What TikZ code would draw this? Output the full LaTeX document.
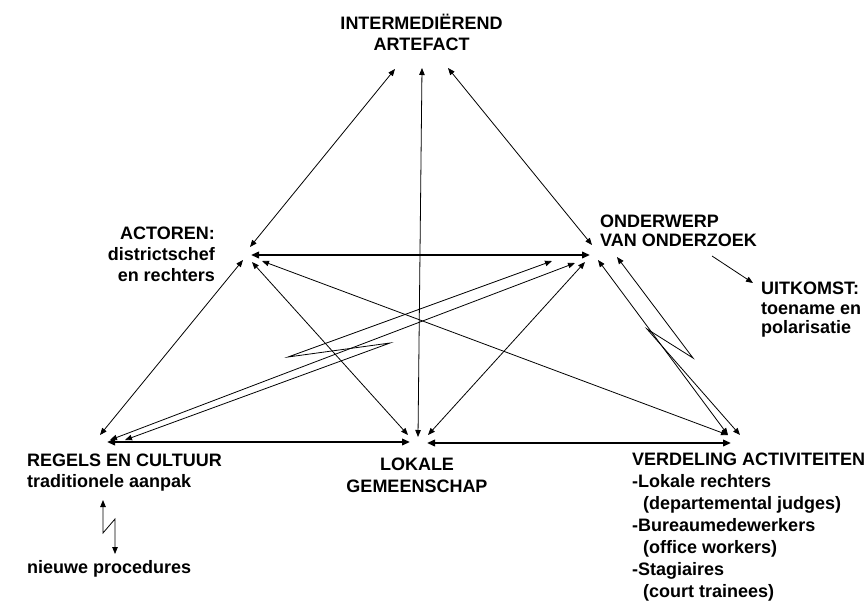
\documentclass[tikz,border=0pt]{standalone}
\usepackage{fontspec}
\setmainfont{Liberation Sans}
\usetikzlibrary{arrows.meta}
\tikzstyle{lbl}=[inner sep=0pt,font=\fontsize{18}{21}\selectfont\bfseries]
\tikzstyle{link}=[{Triangle[length=7pt,width=5.5pt]}-{Triangle[length=7pt,width=5.5pt]},
  line width=0.8pt]
\tikzstyle{biglink}=[{Triangle[length=8pt,width=6.5pt]}-{Triangle[length=8pt,width=6.5pt]},
  line width=2.2pt]
\tikzstyle{onelink}=[-{Triangle[length=7pt,width=5.5pt]},line width=0.8pt]

\begin{document}
\begin{tikzpicture}[x=1pt,y=-1pt]
    \useasboundingbox (0,0) rectangle (865,603);
    % labels
    \node [style=lbl,align=center,anchor=north,font=\fontsize{18}{21.5}\selectfont\bfseries] (art) at (421.5,13.5) {INTERMEDIËREND\\ARTEFACT};
    \node [style=lbl,align=right,anchor=north east] (act) at (215,227) {ACTOREN:\\districtschef\\en rechters};
    \node [style=lbl,align=left,anchor=north west,font=\fontsize{18}{19}\selectfont\bfseries] (ond) at (600,215) {ONDERWERP\\VAN ONDERZOEK};
    \node [style=lbl,align=left,anchor=north west,font=\fontsize{18}{19.5}\selectfont\bfseries] (uit) at (761,282) {UITKOMST:\\toename en\\polarisatie};
    \node [style=lbl,align=left,anchor=north west,font=\fontsize{18}{20.5}\selectfont\bfseries] (reg) at (27,454) {REGELS EN CULTUUR\\traditionele aanpak};
    \node [style=lbl,anchor=base west] (nieuw) at (27,573) {nieuwe procedures};
    \node [style=lbl,align=center,anchor=north,font=\fontsize{18}{21.5}\selectfont\bfseries] (lok) at (417,458) {LOKALE\\GEMEENSCHAP};
    \node [style=lbl,align=left,anchor=north west,font=\fontsize{18}{22}\selectfont\bfseries] (ver) at (632,453) {VERDELING ACTIVITEITEN\\-Lokale rechters\\\hspace*{11pt}(departemental judges)\\-Bureaumedewerkers\\\hspace*{11pt}(office workers)\\-Stagiaires\\\hspace*{11pt}(court trainees)};
    % end points
    \coordinate (art1) at (395,69);
    \coordinate (art2) at (422,68);
    \coordinate (art3) at (448,68);
    \coordinate (act1) at (250,247);
    \coordinate (act2) at (251,255);
    \coordinate (act3) at (243,260);
    \coordinate (act4) at (252,262);
    \coordinate (act5) at (262,261);
    \coordinate (ond1) at (592,245);
    \coordinate (ond2) at (590,255);
    \coordinate (ond3) at (552,261);
    \coordinate (ond4) at (575,263);
    \coordinate (ond5) at (585,262);
    \coordinate (ond6) at (598,260);
    \coordinate (ond7) at (617,257);
    \coordinate (ond8) at (712,256);
    \coordinate (uit1) at (753,283);
    \coordinate (reg1) at (100,435);
    \coordinate (reg2) at (110,440);
    \coordinate (reg3) at (125,440);
    \coordinate (reg4) at (107,442);
    \coordinate (reg5) at (103,500);
    \coordinate (lok1) at (418,437);
    \coordinate (lok2) at (408,435);
    \coordinate (lok3) at (428,435);
    \coordinate (lok4) at (410,442);
    \coordinate (lok5) at (427,443);
    \coordinate (ver1) at (731,443);
    \coordinate (ver2) at (728,435);
    \coordinate (ver3) at (740,435);
    \coordinate (nieuw1) at (115,554);
    % bends of the lightning arrows
    \coordinate (zigA) at (288,357);
    \coordinate (zigB) at (390,343);
    \coordinate (zigC) at (693,358);
    \coordinate (zigD) at (647,329);
    \coordinate (zigE) at (103,533);
    \coordinate (zigF) at (115,519);
    % connectors
    \draw [style=link] (art1) to (act1);
    \draw [style=link] (art2) to (lok1);
    \draw [style=link] (art3) to (ond1);
    \draw [style=biglink] (act2) to (ond2);
    \draw [style=biglink] (reg4) to (lok4);
    \draw [style=biglink] (lok5) to (ver1);
    \draw [style=link] (act3) to (reg1);
    \draw [style=link] (act4) to (lok2);
    \draw [style=link] (act5) to (ver2);
    \draw [style=link] (ond5) to (lok3);
    \draw [style=link] (ond4) to (reg2);
    \draw [style=link] (ond6) to (ver2);
    \draw [style=link] (ond3) -- (zigA) -- (zigB) -- (reg3);
    \draw [style=link] (ond7) -- (zigC) -- (zigD) -- (ver3);
    \draw [style=link] (reg5) -- (zigE) -- (zigF) -- (nieuw1);
    \draw [style=onelink] (ond8) to (uit1);
\end{tikzpicture}
\end{document}
